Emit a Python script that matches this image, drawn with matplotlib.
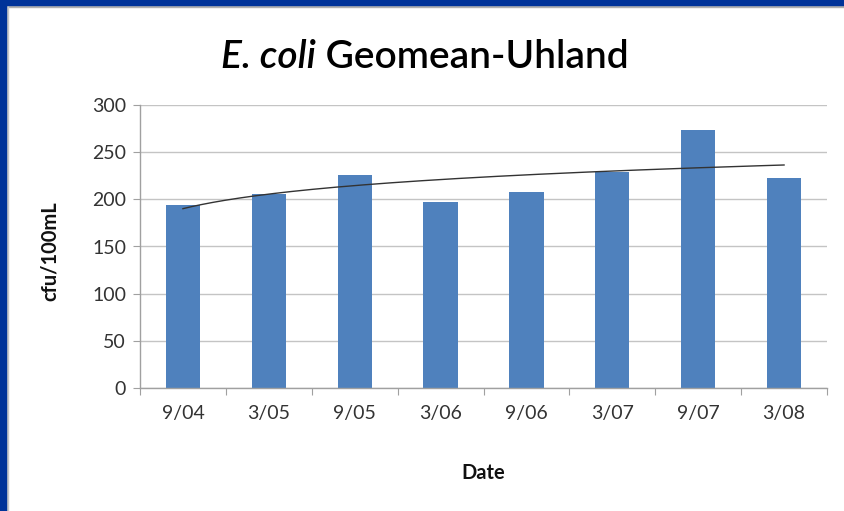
import matplotlib
matplotlib.use("Agg")
import matplotlib.pyplot as plt
import numpy as np
from matplotlib.patches import Rectangle

categories = ["9/04", "3/05", "9/05", "3/06", "9/06", "3/07", "9/07", "3/08"]
values = [194, 206, 226, 197, 208, 229, 274, 223]
yticks = [0, 50, 100, 150, 200, 250, 300]

plt.rcParams['font.family'] = ['Lato', 'DejaVu Sans']

W, H = 844, 511
fig = plt.figure(figsize=(W/100, H/100), dpi=100)
fig.patch.set_facecolor('white')

# frame border (blue top and left with gray shadow)
blue = '#003399'
fig.add_artist(Rectangle((0, 1 - 7/H), 1, 2/H, transform=fig.transFigure, color='#b0b0b0', zorder=0))
fig.add_artist(Rectangle((0, 1 - 5/H), 1, 5/H, transform=fig.transFigure, color=blue, zorder=1))
fig.add_artist(Rectangle((5/W, 0), 3/W, 1, transform=fig.transFigure, color='#c8c8c8', zorder=0))
fig.add_artist(Rectangle((0, 0), 6/W, 1, transform=fig.transFigure, color=blue, zorder=1))

left, right = 140/W, 827/W
bottom, top = (H - 388)/H, (H - 105)/H
ax = fig.add_axes([left, bottom, right - left, top - bottom])

x = np.arange(len(categories))
ax.bar(x, values, width=0.4, color='#4F81BD', zorder=2)

# logarithmic trendline
lx = np.log(x + 1)
b, a = np.polyfit(lx, values, 1)
xt = np.linspace(0, len(categories) - 1, 200)
ax.plot(xt, a + b*np.log(xt + 1), color='#333333', lw=1.0, zorder=3)

ax.set_xlim(-0.5, len(categories) - 0.5)
ax.set_ylim(0, 300)
ax.set_yticks(yticks)
ax.yaxis.grid(True, color='#C4C4C4', lw=1.0, zorder=0)
ax.set_axisbelow(True)
for s in ['top', 'right']:
    ax.spines[s].set_visible(False)
for s in ['left', 'bottom']:
    ax.spines[s].set_color('#A0A0A0')
    ax.spines[s].set_linewidth(1.0)

ax.set_xticks(np.arange(len(categories) + 1) - 0.5)
ax.set_xticklabels([])
ax.set_xticks(x, minor=True)
ax.set_xticklabels(categories, minor=True)
ax.tick_params(axis='x', which='major', length=5, color='#A0A0A0', direction='out')
ax.tick_params(axis='x', which='minor', length=0, pad=12, labelsize=14, labelcolor='#333333')
ax.tick_params(axis='y', length=5, color='#A0A0A0', direction='out', pad=5, labelsize=14, labelcolor='#333333')

fig.text(50/W, 1 - 251/H, 'cfu/100mL', rotation=90, ha='center', va='center',
         fontsize=14.5, fontweight='bold', color='#111111')
fig.text(483/W, 1 - 479/H, 'Date', ha='center', va='baseline',
         fontsize=14.5, fontweight='bold', color='#111111')

# title: italic "E. coli" followed by upright text
fig.canvas.draw()
r = fig.canvas.get_renderer()
t1 = fig.text(0, 1 - 68/H, 'E. coli', ha='left', va='baseline', fontsize=28,
              fontstyle='italic', fontweight='semibold', color='#000000')
t2 = fig.text(0, 1 - 68/H, ' Geomean-Uhland', ha='left', va='baseline', fontsize=28,
              fontweight='semibold', color='#000000')
w1 = t1.get_window_extent(r).width
w2 = t2.get_window_extent(r).width
x0 = 425 - (w1 + w2) / 2
t1.set_x(x0 / W)
t2.set_x((x0 + w1) / W)

fig.savefig('out.png', dpi=100)
